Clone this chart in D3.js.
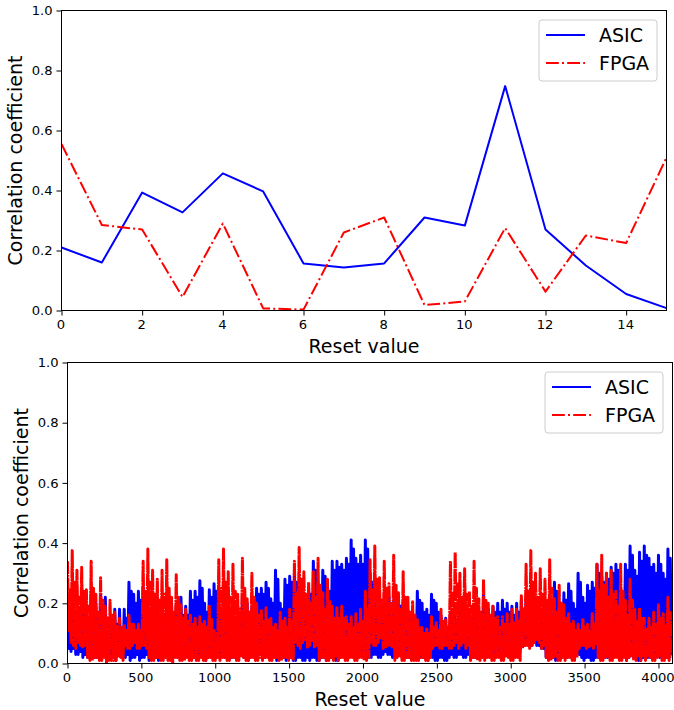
<!DOCTYPE html>
<html>

<head>
  <script src="https://d3js.org/d3.v7.min.js"></script>
  <style>
    body { margin: 0; background: #fff; }
    svg { display: block; }
    text { font-family: "DejaVu Sans", sans-serif; fill: #000; }
    .axis text { font-size: 13.1px; }
    .axis path, .axis line { stroke: #000; stroke-width: 1; }
    .mark { fill: none; stroke-linejoin: round; }
  </style>
</head>

<body>
  <script>
    // top panel, one value per reset
    const resets = d3.range(16);
    const asicTop = [0.21, 0.16, 0.393, 0.327, 0.457, 0.397, 0.157, 0.143, 0.157, 0.31, 0.283, 0.748, 0.27, 0.15, 0.055, 0.008];
    const fpgaTop = [0.555, 0.285, 0.27, 0.045, 0.29, 0.007, 0.003, 0.26, 0.31, 0.018, 0.03, 0.275, 0.063, 0.25, 0.225, 0.51];

    // bottom panel: each 32 resets holds peak, dip, shoulder, dip
    const blockStep = 8;
    const asicPeaks = [
      0.165, 0.22, 0.17, 0.21, 0.18, 0.24, 0.2, 0.23, 0.22, 0.15, 0.18, 0.18, 0.18, 0.27, 0.23, 0.24,
      0.255, 0.2, 0.19, 0.22, 0.21, 0.18, 0.2, 0.19, 0.22, 0.19, 0.24, 0.24, 0.275, 0.2, 0.245, 0.265,
      0.2, 0.22, 0.2, 0.21, 0.19, 0.22, 0.2, 0.19, 0.25, 0.25, 0.27, 0.215, 0.31, 0.2, 0.28, 0.29,
      0.3, 0.25, 0.2, 0.25, 0.34, 0.25, 0.31, 0.26, 0.34, 0.34, 0.33, 0.35, 0.41, 0.35, 0.36, 0.41,
      0.3, 0.2, 0.21, 0.2, 0.22, 0.21, 0.22, 0.2, 0.18, 0.16, 0.24, 0.2, 0.18, 0.23, 0.2, 0.16,
      0.15, 0.17, 0.15, 0.16, 0.17, 0.15, 0.16, 0.15, 0.23, 0.18, 0.19, 0.2, 0.21, 0.2, 0.19, 0.2,
      0.21, 0.22, 0.22, 0.2, 0.18, 0.19, 0.19, 0.27, 0.18, 0.235, 0.265, 0.2, 0.3, 0.22, 0.26, 0.27,
      0.33, 0.29, 0.3, 0.32, 0.33, 0.25, 0.33, 0.39, 0.31, 0.37, 0.39, 0.35, 0.33, 0.36, 0.3, 0.38
    ];
    const asicDips = [
      0.05, 0.05, 0.03, 0.02, 0.02, 0.03, 0.02, 0.04, 0.02, 0.03, 0.01, 0.03, 0.02, 0.01, 0.02, 0.01,
      0.02, 0.01, 0.03, 0.01, 0.02, 0.03, 0.02, 0.02, 0.03, 0.05, 0.03, 0.02, 0.04, 0.01, 0.03, 0.02,
      0.04, 0.02, 0.03, 0.02, 0.04, 0.02, 0.01, 0.03, 0.02, 0.03, 0.04, 0.02, 0.01, 0.03, 0.01, 0.02,
      0.01, 0.02, 0.01, 0.01, 0.02, 0.01, 0.02, 0.03, 0.02, 0.01, 0.03, 0.02, 0.03, 0.02, 0.04, 0.03,
      0.02, 0.03, 0.02, 0.04, 0.03, 0.02, 0.03, 0.03, 0.02, 0.04, 0.03, 0.02, 0.01, 0.02, 0.01, 0.02,
      0.01, 0.03, 0.02, 0.03, 0.02, 0.03, 0.02, 0.04, 0.03, 0.05, 0.04, 0.03, 0.05, 0.06, 0.05, 0.04,
      0.06, 0.07, 0.06, 0.06, 0.05, 0.02, 0.03, 0.01, 0.02, 0.02, 0.03, 0.02, 0.03, 0.01, 0.02, 0.01,
      0.02, 0.03, 0.02, 0.04, 0.03, 0.02, 0.01, 0.03, 0.02, 0.01, 0.03, 0.02, 0.04, 0.02, 0.03, 0.02
    ];
    const asicShoulders = [
      0.12, 0.15, 0.13, 0.16, 0.12, 0.17, 0.14, 0.16, 0.15, 0.11, 0.13, 0.12, 0.15, 0.24, 0.2, 0.21,
      0.23, 0.14, 0.13, 0.16, 0.14, 0.12, 0.15, 0.13, 0.16, 0.16, 0.21, 0.22, 0.25, 0.17, 0.22, 0.24,
      0.15, 0.16, 0.14, 0.15, 0.13, 0.16, 0.15, 0.14, 0.23, 0.23, 0.25, 0.2, 0.28, 0.18, 0.26, 0.27,
      0.27, 0.23, 0.18, 0.23, 0.31, 0.23, 0.29, 0.24, 0.31, 0.32, 0.31, 0.33, 0.38, 0.33, 0.33, 0.38,
      0.27, 0.18, 0.19, 0.17, 0.19, 0.18, 0.19, 0.17, 0.16, 0.14, 0.21, 0.17, 0.16, 0.21, 0.17, 0.13,
      0.12, 0.14, 0.12, 0.13, 0.14, 0.12, 0.13, 0.12, 0.2, 0.16, 0.17, 0.17, 0.18, 0.17, 0.16, 0.17,
      0.18, 0.19, 0.19, 0.17, 0.16, 0.17, 0.16, 0.24, 0.16, 0.21, 0.24, 0.18, 0.27, 0.2, 0.24, 0.25,
      0.3, 0.27, 0.28, 0.3, 0.31, 0.23, 0.31, 0.36, 0.29, 0.34, 0.36, 0.32, 0.3, 0.33, 0.28, 0.35
    ];
    const asicDipsB = [
      0.04, 0.03, 0.04, 0.03, 0.03, 0.02, 0.03, 0.03, 0.03, 0.02, 0.03, 0.02, 0.03, 0.02, 0.03, 0.02,
      0.03, 0.02, 0.02, 0.03, 0.03, 0.02, 0.03, 0.03, 0.02, 0.04, 0.02, 0.03, 0.03, 0.02, 0.02, 0.03,
      0.03, 0.03, 0.02, 0.03, 0.03, 0.03, 0.02, 0.02, 0.03, 0.02, 0.03, 0.03, 0.02, 0.02, 0.02, 0.01,
      0.02, 0.01, 0.02, 0.02, 0.01, 0.02, 0.01, 0.02, 0.01, 0.02, 0.02, 0.03, 0.02, 0.03, 0.03, 0.02,
      0.03, 0.02, 0.03, 0.03, 0.02, 0.03, 0.02, 0.02, 0.03, 0.03, 0.02, 0.03, 0.02, 0.01, 0.02, 0.01,
      0.02, 0.02, 0.03, 0.02, 0.03, 0.02, 0.03, 0.03, 0.04, 0.04, 0.03, 0.04, 0.04, 0.05, 0.04, 0.05,
      0.06, 0.06, 0.07, 0.06, 0.05, 0.03, 0.02, 0.02, 0.03, 0.02, 0.02, 0.03, 0.02, 0.02, 0.01, 0.02,
      0.03, 0.02, 0.03, 0.03, 0.02, 0.03, 0.02, 0.02, 0.01, 0.02, 0.02, 0.03, 0.03, 0.03, 0.02, 0.03
    ];
    const fpgaPeaks = [
      0.34, 0.375, 0.31, 0.32, 0.245, 0.34, 0.23, 0.285, 0.19, 0.21, 0.17, 0.15, 0.13, 0.16, 0.13, 0.13,
      0.34, 0.38, 0.31, 0.28, 0.31, 0.345, 0.22, 0.295, 0.195, 0.18, 0.16, 0.15, 0.155, 0.14, 0.19, 0.11,
      0.345, 0.38, 0.305, 0.33, 0.23, 0.35, 0.215, 0.3, 0.2, 0.18, 0.185, 0.15, 0.13, 0.17, 0.15, 0.18,
      0.34, 0.385, 0.305, 0.27, 0.305, 0.35, 0.235, 0.28, 0.19, 0.185, 0.19, 0.155, 0.155, 0.165, 0.18, 0.24,
      0.345, 0.39, 0.285, 0.34, 0.265, 0.36, 0.235, 0.305, 0.22, 0.205, 0.145, 0.12, 0.115, 0.155, 0.135, 0.18,
      0.145, 0.34, 0.37, 0.3, 0.315, 0.24, 0.34, 0.215, 0.28, 0.2, 0.19, 0.155, 0.155, 0.165, 0.18, 0.18,
      0.225, 0.33, 0.375, 0.3, 0.315, 0.28, 0.345, 0.215, 0.26, 0.195, 0.165, 0.14, 0.13, 0.15, 0.13, 0.165,
      0.33, 0.36, 0.3, 0.31, 0.24, 0.33, 0.21, 0.28, 0.18, 0.185, 0.15, 0.15, 0.17, 0.195, 0.165, 0.22
    ];
    const fpgaDips = [
      0.11, 0.06, 0.07, 0.05, 0.02, 0.01, 0.02, 0.01, 0.0, 0.01, 0.01, 0.02, 0.06, 0.05, 0.07, 0.05,
      0.06, 0.02, 0.01, 0.02, 0.01, 0.01, 0.0, 0.02, 0.01, 0.02, 0.01, 0.01, 0.02, 0.01, 0.02, 0.01,
      0.01, 0.02, 0.01, 0.02, 0.01, 0.02, 0.01, 0.02, 0.01, 0.01, 0.02, 0.01, 0.02, 0.01, 0.02, 0.02,
      0.07, 0.05, 0.08, 0.06, 0.05, 0.01, 0.02, 0.01, 0.01, 0.01, 0.02, 0.01, 0.02, 0.01, 0.02, 0.01,
      0.07, 0.06, 0.08, 0.05, 0.06, 0.01, 0.02, 0.01, 0.02, 0.01, 0.01, 0.02, 0.01, 0.05, 0.06, 0.05,
      0.06, 0.05, 0.07, 0.06, 0.05, 0.01, 0.02, 0.01, 0.01, 0.02, 0.01, 0.02, 0.01, 0.02, 0.01, 0.02,
      0.05, 0.06, 0.06, 0.08, 0.05, 0.02, 0.01, 0.02, 0.01, 0.01, 0.02, 0.01, 0.05, 0.06, 0.05, 0.05,
      0.02, 0.01, 0.02, 0.01, 0.02, 0.01, 0.01, 0.02, 0.01, 0.01, 0.01, 0.02, 0.01, 0.02, 0.01, 0.01
    ];
    const fpgaShoulders = [
      0.25, 0.27, 0.22, 0.24, 0.19, 0.25, 0.17, 0.21, 0.15, 0.16, 0.13, 0.12, 0.11, 0.13, 0.11, 0.11,
      0.24, 0.27, 0.23, 0.21, 0.23, 0.25, 0.17, 0.22, 0.15, 0.14, 0.13, 0.12, 0.13, 0.12, 0.15, 0.1,
      0.25, 0.27, 0.22, 0.24, 0.18, 0.25, 0.17, 0.22, 0.16, 0.14, 0.15, 0.12, 0.11, 0.14, 0.12, 0.14,
      0.24, 0.28, 0.23, 0.2, 0.22, 0.26, 0.18, 0.21, 0.15, 0.15, 0.15, 0.13, 0.12, 0.13, 0.14, 0.18,
      0.25, 0.28, 0.21, 0.25, 0.2, 0.26, 0.18, 0.22, 0.17, 0.16, 0.12, 0.1, 0.1, 0.12, 0.11, 0.14,
      0.12, 0.24, 0.27, 0.22, 0.23, 0.19, 0.25, 0.17, 0.21, 0.16, 0.15, 0.12, 0.13, 0.13, 0.14, 0.14,
      0.18, 0.24, 0.27, 0.22, 0.23, 0.21, 0.25, 0.17, 0.2, 0.15, 0.13, 0.11, 0.11, 0.12, 0.11, 0.13,
      0.24, 0.26, 0.22, 0.23, 0.19, 0.24, 0.16, 0.21, 0.14, 0.15, 0.12, 0.12, 0.13, 0.15, 0.13, 0.17
    ];
    const fpgaDipsB = [
      0.07, 0.05, 0.06, 0.06, 0.01, 0.02, 0.01, 0.02, 0.01, 0.01, 0.02, 0.01, 0.05, 0.06, 0.05, 0.06,
      0.05, 0.01, 0.02, 0.01, 0.02, 0.01, 0.02, 0.01, 0.01, 0.01, 0.02, 0.01, 0.01, 0.02, 0.01, 0.02,
      0.02, 0.01, 0.02, 0.01, 0.02, 0.01, 0.02, 0.01, 0.02, 0.02, 0.01, 0.02, 0.01, 0.02, 0.01, 0.01,
      0.06, 0.07, 0.05, 0.07, 0.06, 0.02, 0.01, 0.02, 0.02, 0.02, 0.01, 0.02, 0.01, 0.02, 0.01, 0.02,
      0.06, 0.07, 0.05, 0.06, 0.05, 0.02, 0.01, 0.02, 0.01, 0.01, 0.02, 0.01, 0.02, 0.06, 0.05, 0.06,
      0.05, 0.06, 0.05, 0.07, 0.06, 0.02, 0.01, 0.02, 0.02, 0.01, 0.02, 0.01, 0.02, 0.01, 0.02, 0.01,
      0.06, 0.05, 0.07, 0.07, 0.06, 0.01, 0.02, 0.01, 0.02, 0.02, 0.01, 0.02, 0.06, 0.05, 0.06, 0.06,
      0.01, 0.02, 0.01, 0.02, 0.01, 0.02, 0.02, 0.01, 0.02, 0.02, 0.02, 0.01, 0.02, 0.01, 0.02, 0.02
    ];
    const bottomTicks = d3.range(0, 4001, 500);
    const topTicks = d3.range(0, 15, 2);
    const yTicks = [0, 0.2, 0.4, 0.6, 0.8, 1];
    const seriesNames = ["ASIC", "FPGA"];
    const seriesColors = ["#0000ff", "#ff0000"];
    const dashDot = "12.8,3.2,2,3.2";
    const denseDashDot = "12.8,0.8,2,0.8"; // zigzag runs are short, real gaps mostly get painted over

    const svg = d3.select("body").append("svg").attr("width", 674).attr("height", 710);

    function zigzag(peaks, dips, shoulders, dipsB) {
      const pts = [];
      peaks.forEach((p, i) => {
        [p, dips[i], shoulders[i], dipsB[i]].forEach((v, k) => {
          pts.push([(i * 4 + k) * blockStep, v]);
        });
      });
      return pts;
    }

    function panel(box, xMax, xTicks, series, markWidth, redDash) {
      const x = d3.scaleLinear().domain([0, xMax]).range([box.left, box.right]);
      const y = d3.scaleLinear().domain([0, 1]).range([box.bottom, box.top]);
      const g = svg.append("g");
      const line = d3.line().x(d => x(d[0])).y(d => y(d[1]));

      const clipId = "clip" + xMax;
      g.append("clipPath").attr("id", clipId).append("rect")
        .attr("x", box.left).attr("y", box.top)
        .attr("width", box.right - box.left).attr("height", box.bottom - box.top);

      series.forEach((pts, i) => {
        g.append("path")
          .attr("class", "mark")
          .attr("clip-path", `url(#${clipId})`)
          .attr("d", line(pts))
          .attr("stroke", seriesColors[i])
          .attr("stroke-width", markWidth)
          .attr("stroke-dasharray", i === 1 ? redDash : null);
      });

      g.append("g").attr("class", "axis")
        .attr("transform", `translate(0,${box.bottom})`)
        .call(d3.axisBottom(x).tickValues(xTicks).tickFormat(d3.format("d")).tickSize(5).tickPadding(4))
        .selectAll("text").attr("dx", -1);
      g.append("g").attr("class", "axis")
        .attr("transform", `translate(${box.left},0)`)
        .call(d3.axisLeft(y).tickValues(yTicks).tickFormat(d3.format(".1f")).tickSize(5).tickPadding(4));
      g.selectAll(".axis .domain").attr("d", null);

      // spines
      g.append("rect")
        .attr("x", box.left).attr("y", box.top)
        .attr("width", box.right - box.left).attr("height", box.bottom - box.top)
        .attr("fill", "none").attr("stroke", "#000").attr("stroke-width", 1);

      g.append("text")
        .attr("x", (box.left + box.right) / 2).attr("y", box.bottom + 42)
        .attr("text-anchor", "middle").attr("font-size", 19)
        .text("Reset value");
      g.append("text")
        .attr("transform", `translate(${box.left - 40},${(box.top + box.bottom) / 2}) rotate(-90)`)
        .attr("text-anchor", "middle").attr("font-size", 19)
        .text("Correlation coefficient");

      // legend
      const lg = g.append("g").attr("transform", `translate(${box.right - 127.5},${box.top + 9.5})`);
      lg.append("rect").attr("width", 118).attr("height", 61).attr("rx", 3)
        .attr("fill", "#fff").attr("fill-opacity", 0.8).attr("stroke", "#ccc");
      seriesNames.forEach((name, i) => {
        const ly = 15 + i * 28;
        lg.append("line").attr("x1", 7).attr("x2", 46).attr("y1", ly).attr("y2", ly)
          .attr("stroke", seriesColors[i]).attr("stroke-width", 2)
          .attr("stroke-dasharray", i === 1 ? dashDot : null);
        lg.append("text").attr("x", 60).attr("y", ly + 7).attr("font-size", 19).text(name);
      });
    }

    panel({ left: 61.5, right: 666.5, top: 10.5, bottom: 310.5 }, 15, topTicks,
      [asicTop.map((v, i) => [resets[i], v]), fpgaTop.map((v, i) => [resets[i], v])], 2, dashDot);
    panel({ left: 67.5, right: 672.5, top: 362.5, bottom: 663.5 }, 4095, bottomTicks,
      [zigzag(asicPeaks, asicDips, asicShoulders, asicDipsB), zigzag(fpgaPeaks, fpgaDips, fpgaShoulders, fpgaDipsB)], 3, denseDashDot);
  </script>
</body>

</html>
